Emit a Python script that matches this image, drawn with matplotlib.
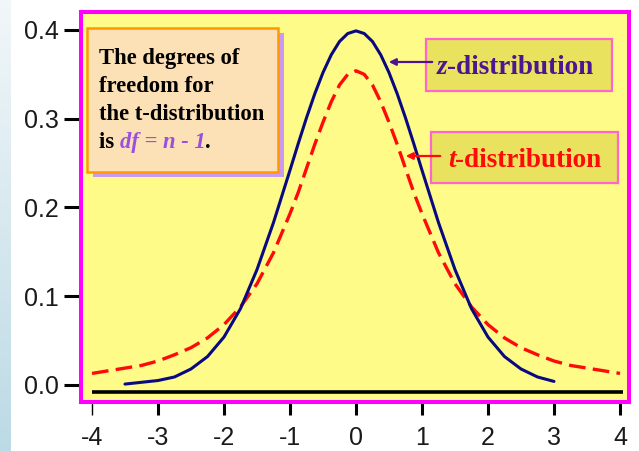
import numpy as np
import matplotlib
matplotlib.use("Agg")
import matplotlib.pyplot as plt
from matplotlib.patches import Rectangle, FancyArrowPatch

# ---- data ----
z_x = [-3.5, -3.0, -2.75, -2.5, -2.25, -2.0, -1.75, -1.5, -1.25, -1.0, -0.875,
       -0.75, -0.625, -0.5, -0.375, -0.25, -0.125, 0.0, 0.125, 0.25, 0.375,
       0.5, 0.625, 0.75, 0.875, 1.0, 1.25, 1.5, 1.75, 2.0, 2.25,
       2.5, 2.75, 3.0]
z_y = [0.001, 0.005, 0.009, 0.018, 0.032, 0.054, 0.086, 0.130, 0.183, 0.242,
       0.272, 0.301, 0.328, 0.352, 0.372, 0.387, 0.396, 0.399, 0.396, 0.387,
       0.372, 0.352, 0.328, 0.301, 0.272, 0.242, 0.183, 0.130,
       0.086, 0.054, 0.032, 0.018, 0.009, 0.004]

t_x = [-4.0, -3.75, -3.5, -3.25, -3.0, -2.75, -2.5, -2.25, -2.0, -1.75, -1.5,
       -1.25, -1.0, -0.875, -0.75, -0.625, -0.5, -0.375, -0.25, -0.125, 0.0,
       0.125, 0.25, 0.375, 0.5, 0.625, 0.75, 0.875, 1.0, 1.25, 1.5,
       1.75, 2.0, 2.25, 2.5, 2.75, 3.0, 3.25, 3.5, 3.75, 4.0]
t_y = [0.013, 0.016, 0.019, 0.022, 0.027, 0.034, 0.042, 0.053, 0.068, 0.088,
       0.114, 0.149, 0.193, 0.217, 0.244, 0.271, 0.296, 0.319, 0.338, 0.350,
       0.354, 0.350, 0.338, 0.319, 0.296, 0.271, 0.244, 0.217,
       0.193, 0.149, 0.114, 0.088, 0.068, 0.053, 0.042, 0.034, 0.027, 0.022,
       0.019, 0.016, 0.013]

x_ticks = [-4, -3, -2, -1, 0, 1, 2, 3, 4]
x_tick_labels = ["-4", "-3", "-2", "-1", "0", "1", "2", "3", "4"]
y_ticks = [0.0, 0.1, 0.2, 0.3, 0.4]
y_tick_labels = ["0.0", "0.1", "0.2", "0.3", "0.4"]
baseline_x = [-4.0, 4.05]
baseline_y = [-0.008, -0.008]

W, H = 639, 451
fig = plt.figure(figsize=(W / 100, H / 100), dpi=100)
fig.patch.set_facecolor("white")


def fx(px):
    return px / W


def fy(py):
    return 1 - py / H


# left light-blue strip
strip_w = 11
grad = np.zeros((H, strip_w, 3))
top = np.array([0xF2, 0xF7, 0xF9]) / 255.0
bot = np.array([0xBC, 0xDA, 0xE5]) / 255.0
for i in range(H):
    t = i / (H - 1)
    grad[i, :, :] = top * (1 - t) + bot * t
fig.figimage(grad, xo=0, yo=0, zorder=-1, origin="upper")

left, right, topp, bottom = 80.7, 629.5, 11.7, 402.0
ax = fig.add_axes([fx(left), fy(bottom), (right - left) / W, (bottom - topp) / H])
ax.set_facecolor("#FFFB88")
for s in ax.spines.values():
    s.set_color("#FF00FF")
    s.set_linewidth(2.9)

ax.set_xlim(-4.171, 4.144)
ax.set_ylim(-0.0192, 0.4206)

ax.plot(baseline_x, baseline_y, color="black", lw=2.6, solid_capstyle="butt", zorder=2)
ax.plot(t_x, t_y, color="#FF0A0A", lw=2.4, dashes=(5.0, 2.2), zorder=3)
ax.plot(z_x, z_y, color="#0A0A80", lw=2.2, zorder=4, solid_capstyle="round")

ax.set_xticks(x_ticks)
ax.set_xticklabels(x_tick_labels)
ax.set_yticks(y_ticks)
ax.set_yticklabels(y_tick_labels)
for lab in ax.get_xticklabels() + ax.get_yticklabels():
    lab.set_fontfamily("Liberation Sans")
    lab.set_fontsize(18)
    lab.set_color("#1a1a1a")
ax.tick_params(axis="y", direction="out", length=12, width=2.2, pad=4, color="black")
ax.tick_params(axis="x", direction="out", length=9.5, width=2.2, pad=8, color="black")
ax.xaxis.get_major_ticks()[0].tick1line.set_markeredgewidth(1.0)

serif = "Liberation Serif"

# ---- degrees of freedom box ----
fig.add_artist(Rectangle((fx(93), fy(177)), (278 - 87) / W, (172 - 28) / H,
                         transform=fig.transFigure, facecolor="#CC99F0",
                         edgecolor="none", zorder=5))
fig.add_artist(Rectangle((fx(87), fy(172)), (278 - 87) / W, (172 - 28) / H,
                         transform=fig.transFigure, facecolor="#FCE0B6",
                         edgecolor="#FF9900", lw=1.8, zorder=6))
lines = ["The degrees of", "freedom for", "the t-distribution"]
base_y = [64, 92, 120]
fs_box = 16.3
for txt, by in zip(lines, base_y):
    fig.text(fx(99), fy(by), txt, fontfamily=serif, fontweight="bold",
             fontsize=fs_box, color="black", va="baseline", ha="left", zorder=7)

fig.canvas.draw()
renderer = fig.canvas.get_renderer()
t1 = fig.text(fx(99), fy(148), "is ", fontfamily=serif, fontweight="bold",
              fontsize=fs_box, color="black", va="baseline", ha="left", zorder=7)
bb = t1.get_window_extent(renderer)
t2 = fig.text(bb.x1 / W, fy(148), "df = n - 1", fontfamily=serif, fontweight="bold",
              fontstyle="italic", fontsize=fs_box, color="#9A4FE0",
              va="baseline", ha="left", zorder=7)
bb2 = t2.get_window_extent(renderer)
fig.text(bb2.x1 / W, fy(148), ".", fontfamily=serif, fontweight="bold",
         fontsize=fs_box, color="black", va="baseline", ha="left", zorder=7)

# ---- label boxes ----
def label_box(x0, y0, x1, y1, first, rest, color, tx, ty):
    fig.add_artist(Rectangle((fx(x0), fy(y1)), (x1 - x0) / W, (y1 - y0) / H,
                             transform=fig.transFigure, facecolor="#E8E25E",
                             edgecolor="#FF66CC", lw=1.6, zorder=6))
    a = fig.text(fx(tx), fy(ty), first, fontfamily=serif, fontweight="bold",
                 fontstyle="italic", fontsize=19.5, color=color, va="baseline",
                 ha="left", zorder=7)
    b = a.get_window_extent(renderer)
    fig.text(b.x1 / W, fy(ty), rest, fontfamily=serif, fontweight="bold",
             fontsize=19.5, color=color, va="baseline", ha="left", zorder=7)


label_box(426, 39, 612, 91, "z", "-distribution", "#4E1590", 437, 74)
label_box(431, 132, 618, 183, "t", "-distribution", "#FF0A0A", 448, 167)

for (x0, x1, yy, c) in [(435, 386, 62, "#4E1590"), (443, 403, 156, "#FF0A0A")]:
    fig.add_artist(FancyArrowPatch((fx(x0), fy(yy)), (fx(x1), fy(yy)),
                                   transform=fig.transFigure,
                                   arrowstyle="-|>,head_length=4,head_width=2",
                                   color=c, lw=1.6, zorder=8))

fig.savefig("out.png", dpi=100)
